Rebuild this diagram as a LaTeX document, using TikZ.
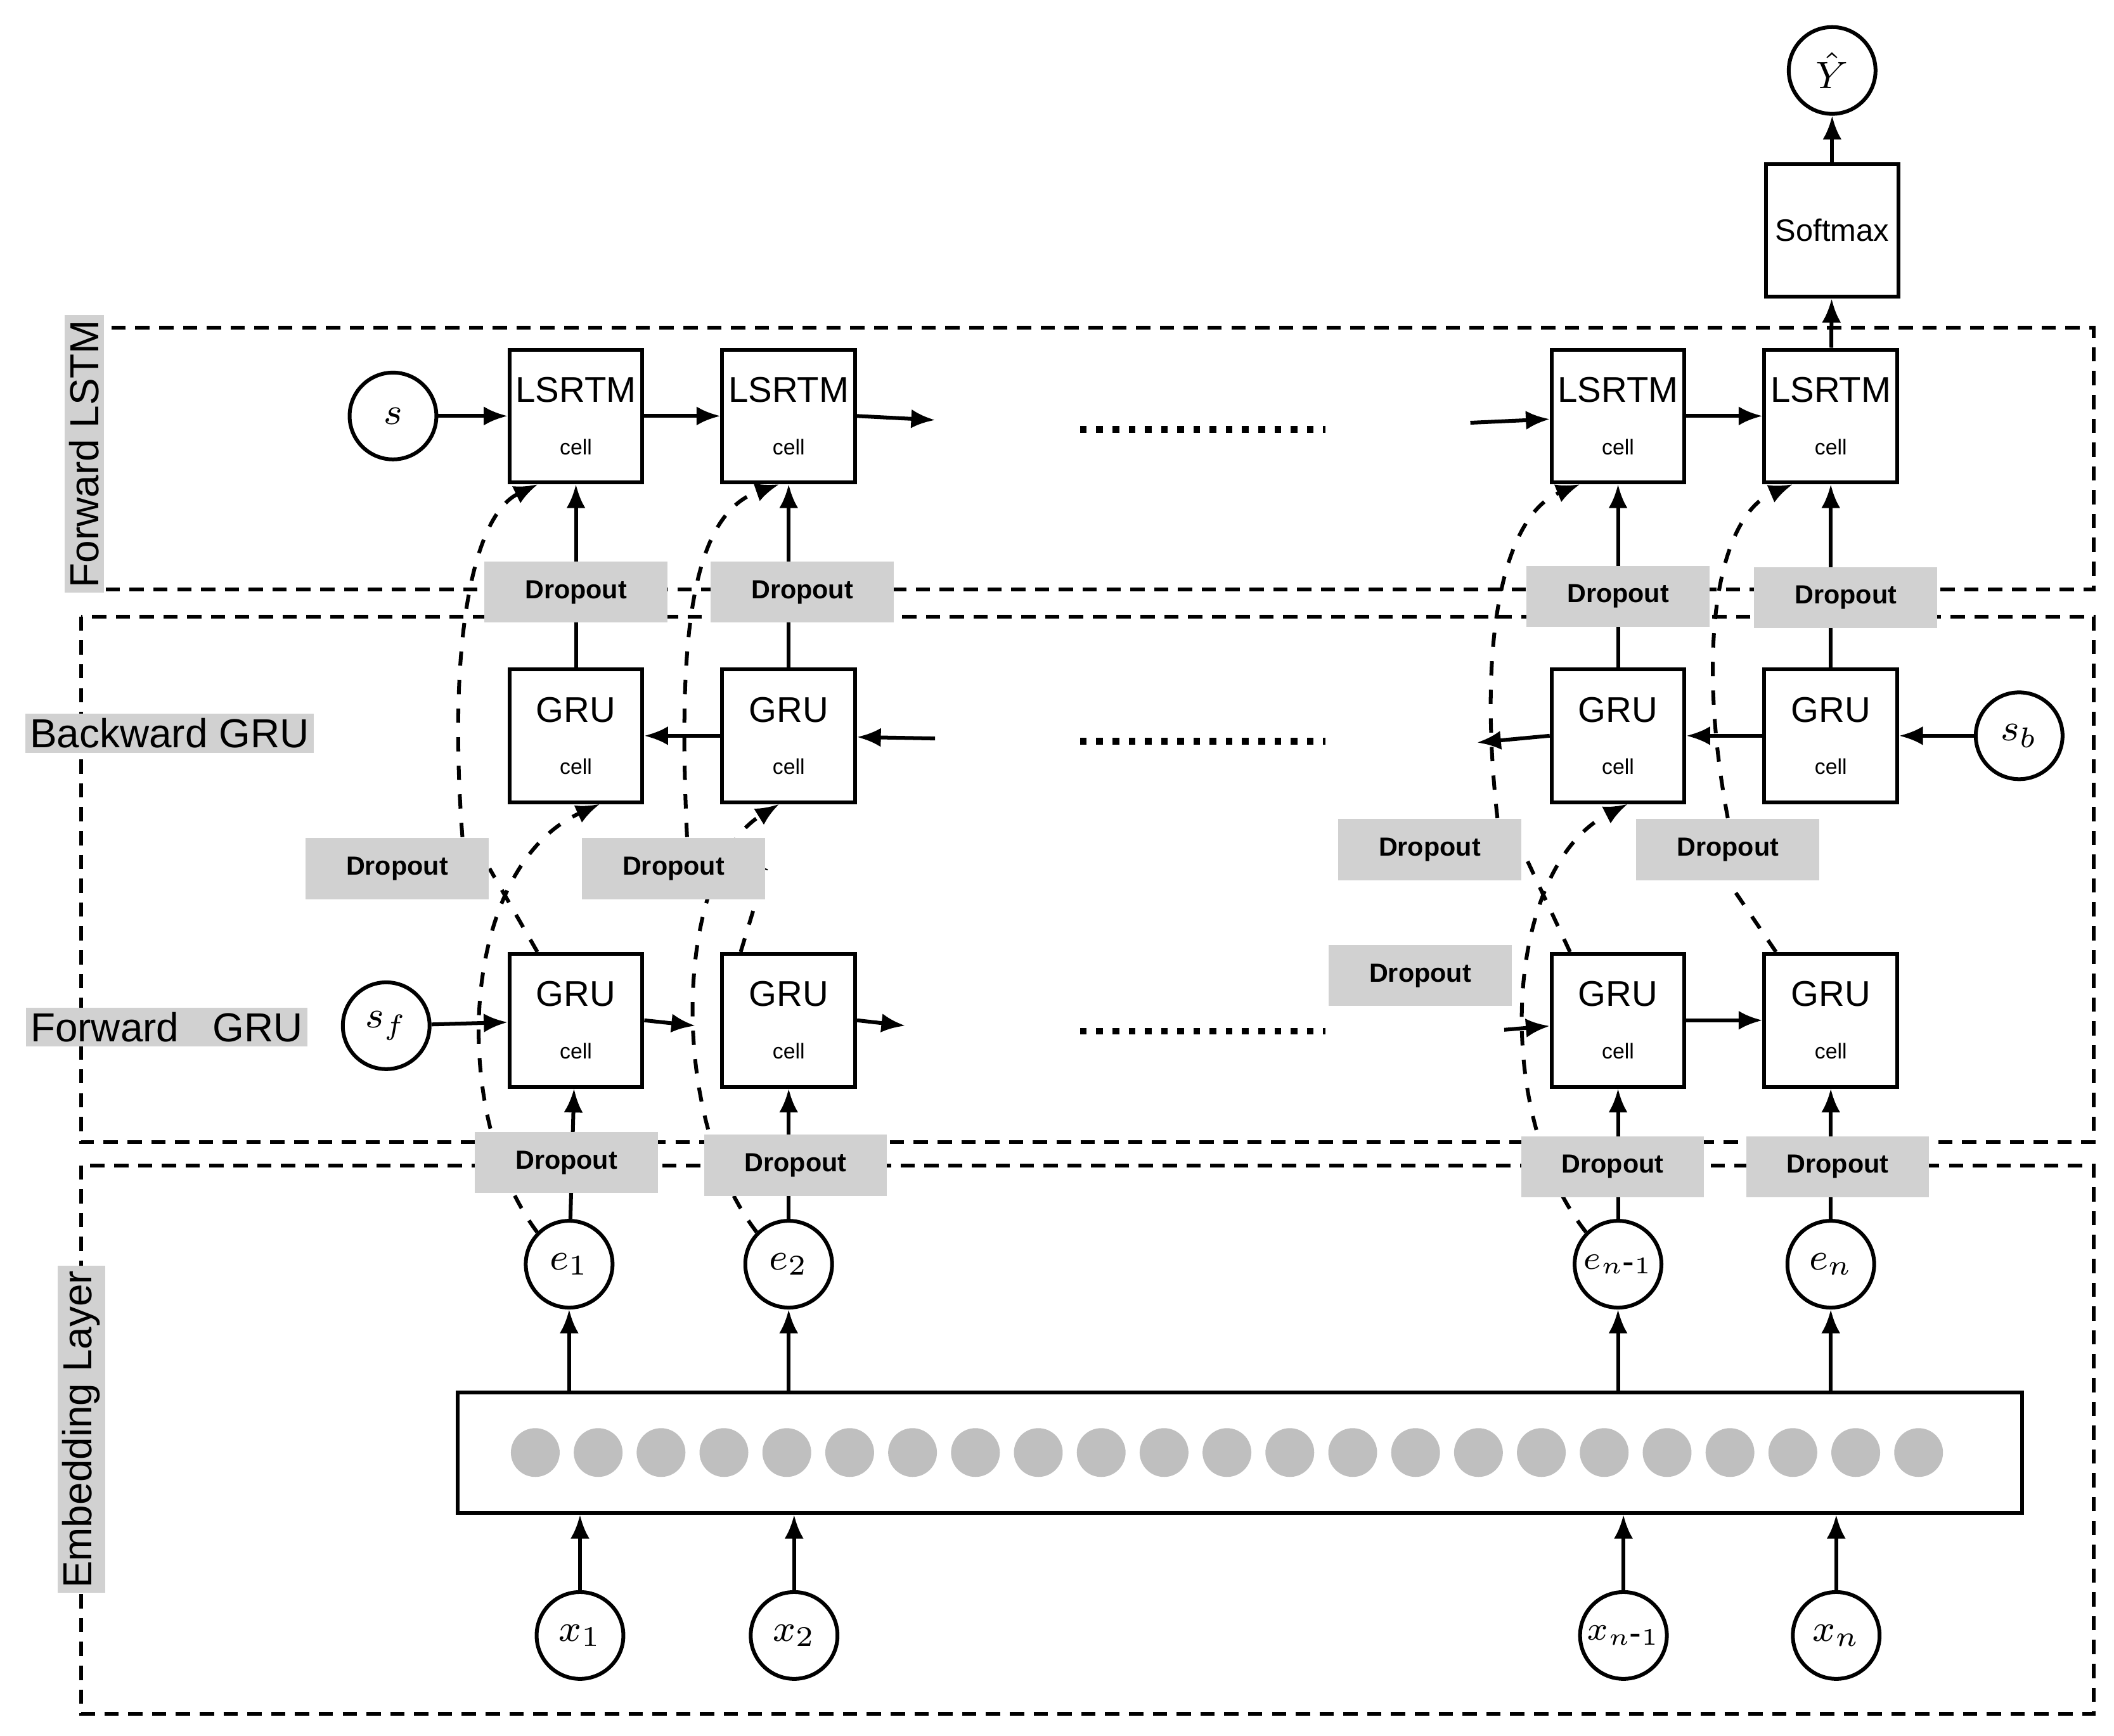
\documentclass[tikz,border=0pt]{standalone}
\usepackage{fontspec}
\setmainfont{Liberation Sans}
\usetikzlibrary{arrows.meta,backgrounds}
\begin{document}
\begin{tikzpicture}[x=0.01cm,y=-0.01cm,
 cell/.style={draw,thick,minimum width=0.98cm,minimum height=0.98cm,inner sep=0pt,align=center},
 circ/.style={draw,thick,circle,minimum size=0.64cm,inner sep=0pt,font=\fontsize{8.5}{9}\selectfont},
 drop/.style={fill=black!18,minimum width=1.35cm,minimum height=0.45cm,inner sep=0pt,font=\fontsize{5.5}{6}\selectfont\bfseries},
 frame/.style={draw,densely dashed,thick},
 arr/.style={-{Latex[length=5pt,width=4pt]},thick},
 dsh/.style={dashed,thick},
 side/.style={fill=black!18,inner sep=1pt,font=\fontsize{8.5}{9}\selectfont},
 dots/.style={line width=1.4pt,dotted}]
\useasboundingbox (0,0) rectangle (1560,1281);
\newcommand{\lcell}[2]{\node[cell] (#1) at #2 {\fontsize{7.5}{8}\selectfont LSRTM\\[-1pt]\fontsize{4.5}{6}\selectfont cell};}
\newcommand{\gcell}[2]{\node[cell] (#1) at #2 {\fontsize{7.5}{8}\selectfont GRU\\[-1pt]\fontsize{4.5}{6}\selectfont cell};}
% frames
\draw[frame] (60,242) rectangle (1545,435);
\draw[frame] (60,455) rectangle (1545,843);
\draw[frame] (60,860) rectangle (1545,1265);
\node[side,rotate=90] (lf) at (62,335) {Forward LSTM};
\node[side,rotate=90] (le) at (60,1055) {Embedding Layer};
\node[side] (lb) at (125,541) {Backward GRU};
\node[side] (lg) at (123,758) {Forward\ \ \ GRU};
% LSTM
\lcell{L1}{(425,307)} \lcell{L2}{(582,307)} \lcell{L3}{(1194,307)} \lcell{L4}{(1351,307)}
\node[cell,font=\fontsize{6.5}{7}\selectfont] (sm) at (1352,170) {Softmax};
\node[circ] (Y) at (1352,52) {$\hat{Y}$};
\node[circ] (s) at (290,307) {$s$};
% GRU
\gcell{B1}{(425,543)} \gcell{B2}{(582,543)} \gcell{B3}{(1194,543)} \gcell{B4}{(1351,543)}
\gcell{F1}{(425,753)} \gcell{F2}{(582,753)} \gcell{F3}{(1194,753)} \gcell{F4}{(1351,753)}
\node[circ] (sb) at (1490,543) {$s_b$};
\node[circ] (sf) at (285,757) {$s_f$};
% dropouts
\node[drop] (dl1) at (425,437) {Dropout};
\node[drop] (dl2) at (592,437) {Dropout};
\node[drop] (dl3) at (1194,440) {Dropout};
\node[drop] (dl4) at (1362,441) {Dropout};
\node[drop] (dm1) at (293,641) {Dropout};
\node[drop] (dm2) at (497,641) {Dropout};
\node[drop] (dm3) at (1055,627) {Dropout};
\node[drop] (dm4) at (1275,627) {Dropout};
\node[drop] (dm5) at (1048,720) {Dropout};
\node[drop] (de1) at (418,858) {Dropout};
\node[drop] (de2) at (587,860) {Dropout};
\node[drop] (de3) at (1190,861) {Dropout};
\node[drop] (de4) at (1356,861) {Dropout};
% e nodes
\node[circ] (e1) at (420,933) {$e_1$};
\node[circ] (e2) at (582,933) {$e_2$};
\node[circ,font=\fontsize{7.5}{8}\selectfont] (e3) at (1194,933) {$e_{n\mbox{-}1}$};
\node[circ] (e4) at (1351,933) {$e_n$};
% embedding
\node[draw,thick,minimum width=11.54cm,minimum height=0.89cm,inner sep=0pt] (emb) at (915,1072) {};
\foreach \i in {0,...,22} \fill[black!25] ({395+\i*46.4},1072) circle (18);
\node[circ] (x1) at (428,1207) {$x_1$};
\node[circ] (x2) at (586,1207) {$x_2$};
\node[circ,font=\fontsize{7.5}{8}\selectfont] (x3) at (1198,1207) {$x_{n\mbox{-}1}$};
\node[circ] (x4) at (1355,1207) {$x_n$};
% coordinates
\coordinate (a1) at (690,310); \coordinate (a2) at (1085,312);
\coordinate (b1) at (690,545); \coordinate (b3) at (1090,548);
\coordinate (f1) at (513,757); \coordinate (f2) at (668,757); \coordinate (f3) at (1110,760);
\draw[dots] (797,317) -- (978,317);
\draw[dots] (797,547) -- (978,547);
\draw[dots] (797,761) -- (978,761);
\begin{pgfonlayer}{background}
% LSTM arrows
\draw[arr] (s) -- (L1); \draw[arr] (L1) -- (L2); \draw[arr] (L2.east) -- (a1);
\draw[arr] (a2) -- (L3); \draw[arr] (L3) -- (L4);
\draw[arr] (L4) -- (sm); \draw[arr] (sm) -- (Y);
% backward
\draw[arr] (b1) -- (B2); \draw[arr] (B2) -- (B1);
\draw[arr] (sb) -- (B4); \draw[arr] (B4) -- (B3); \draw[arr] (B3.west) -- (b3);
% forward
\draw[arr] (sf) -- (F1); \draw[arr] (F1.east) -- (f1); \draw[arr] (F2.east) -- (f2);
\draw[arr] (f3) -- (F3); \draw[arr] (F3) -- (F4);
% verticals
\foreach \b/\l in {B1/L1,B2/L2,B3/L3,B4/L4} \draw[arr] (\b) -- (\l);
\foreach \e/\f in {e1/F1,e2/F2,e3/F3,e4/F4} \draw[arr] (\e) -- (\f);
\foreach \x/\e in {x1/e1,x2/e2,x3/e3,x4/e4} \draw[arr] (\x) -- (emb.south -| \x);
\draw[arr] (e1 |- emb.north) -- (e1); \draw[arr] (e2 |- emb.north) -- (e2);
\draw[arr] (e3 |- emb.north) -- (e3); \draw[arr] (e4 |- emb.north) -- (e4);
% dashed curves
\draw[dsh,-{Latex[length=5pt,width=4pt]}] (e1.north west) .. controls (330,820) and (340,640) .. ([xshift=5pt]B1.south);
\draw[dsh,-{Latex[length=5pt,width=4pt]}] (e2.north west) .. controls (490,820) and (500,640) .. ([xshift=-2pt]B2.south);
\draw[dsh,-{Latex[length=5pt,width=4pt]}] (e3.north west) .. controls (1100,820) and (1110,640) .. ([xshift=2pt]B3.south);
\draw[dsh] (F1.north west) ++(22,0) -- (dm1.east);
\draw[dsh,-{Latex[length=5pt,width=4pt]}] (dm1.north east) ++(-20,0) .. controls (330,470) and (350,380) .. ([xshift=-8pt]L1.south);
\draw[dsh] (F2.north west) ++(15,0) -- (dm2.east);
\draw[dsh,-{Latex[length=5pt,width=4pt]}] (dm2.north) ++(10,0) .. controls (500,470) and (510,380) .. ([xshift=-2pt]L2.south);
\draw[dsh] (F3.north west) ++(15,0) -- (dm3.east);
\draw[dsh,-{Latex[length=5pt,width=4pt]}] (dm3.north) ++(50,0) .. controls (1090,470) and (1110,380) .. ([xshift=-8pt]L3.south);
\draw[dsh] (F4.north west) ++(10,0) -- (dm4.south);
\draw[dsh,-{Latex[length=5pt,width=4pt]}] (dm4.north) .. controls (1250,470) and (1270,380) .. ([xshift=-8pt]L4.south);
\end{pgfonlayer}
\end{tikzpicture}
\end{document}
